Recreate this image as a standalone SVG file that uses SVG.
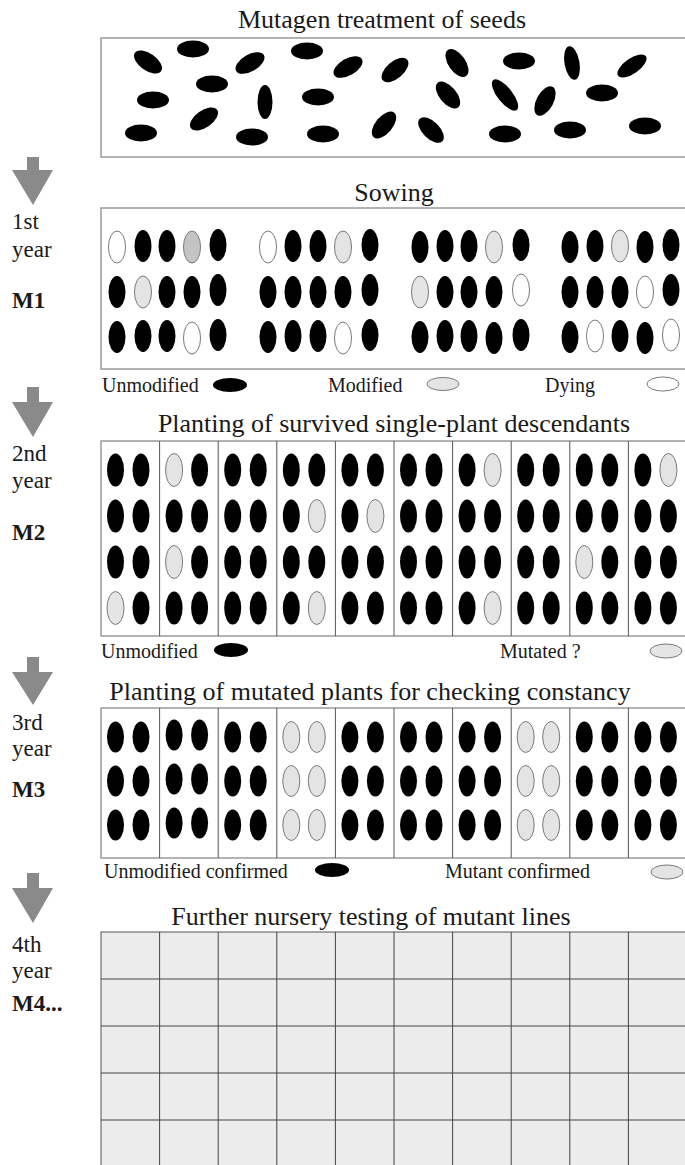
<svg xmlns="http://www.w3.org/2000/svg" width="685" height="1165" viewBox="0 0 685 1165">
<style>
text{font-family:"Liberation Serif","Times New Roman",serif;fill:#1a1a1a}
.t{font-size:26px;text-anchor:middle}
.lg{font-size:20px}
.yr{font-size:23px}
.mm{font-size:23px;font-weight:bold}
.box{fill:#fff;stroke:#9a9a9a;stroke-width:1.5}
.div{stroke:#555;stroke-width:1}
.b{fill:#000}
.g{fill:#e4e4e4;stroke:#7a7a7a;stroke-width:1}
.d{fill:#c4c4c4;stroke:#7a7a7a;stroke-width:1}
.w{fill:#fff;stroke:#7a7a7a;stroke-width:1}
.arr{fill:#8a8a8a}
.grid{fill:#ececec;stroke:#555;stroke-width:1}
.gl{stroke:#444;stroke-width:1}
</style>
<rect width="685" height="1165" fill="#fff"/>

<g id="connectors">
<polygon class="arr" points="27,157 39,157 39,170 53,170 33,205 12,170 27,170"/>
<polygon class="arr" points="27,387 39,387 39,402 53,402 33,437 12,402 27,402"/>
<polygon class="arr" points="27,657 39,657 39,672 53,672 33,705 12,672 27,672"/>
<polygon class="arr" points="27,873 39,873 39,888 53,888 33,923 12,888 27,888"/>
</g>

<g id="year-labels">
<text class="yr" x="12" y="229">1st</text>
<text class="yr" x="12" y="257">year</text>
<text class="mm" x="12" y="308">M1</text>
<text class="yr" x="12" y="461">2nd</text>
<text class="yr" x="12" y="488">year</text>
<text class="mm" x="12" y="540">M2</text>
<text class="yr" x="12" y="730">3rd</text>
<text class="yr" x="12" y="756">year</text>
<text class="mm" x="12" y="797">M3</text>
<text class="yr" x="12" y="952">4th</text>
<text class="yr" x="12" y="978">year</text>
<text class="mm" x="12" y="1011">M4...</text>
</g>

<g id="mutagen">
<text class="t" x="382" y="28">Mutagen treatment of seeds</text>
<rect class="box" x="101" y="38" width="600" height="119"/>
<g class="b">
<ellipse cx="148" cy="62" rx="16" ry="8.5" transform="rotate(35 148 62)"/>
<ellipse cx="193" cy="49" rx="16" ry="8.5"/>
<ellipse cx="250" cy="63" rx="16" ry="8.5" transform="rotate(-30 250 63)"/>
<ellipse cx="307" cy="51" rx="16" ry="8.5"/>
<ellipse cx="348" cy="67" rx="16" ry="8.5" transform="rotate(-30 348 67)"/>
<ellipse cx="395" cy="70" rx="16" ry="8.5" transform="rotate(-40 395 70)"/>
<ellipse cx="457" cy="63" rx="16" ry="8.5" transform="rotate(55 457 63)"/>
<ellipse cx="519" cy="61" rx="16" ry="8.5"/>
<ellipse cx="572" cy="63" rx="17" ry="7.5" transform="rotate(80 572 63)"/>
<ellipse cx="632" cy="66" rx="17" ry="7.5" transform="rotate(-35 632 66)"/>
<ellipse cx="212" cy="84" rx="16" ry="8.5"/>
<ellipse cx="153" cy="100" rx="16" ry="8.5"/>
<ellipse cx="265" cy="102" rx="17" ry="7.5" transform="rotate(90 265 102)"/>
<ellipse cx="318" cy="97" rx="16" ry="8.5"/>
<ellipse cx="448" cy="95" rx="16" ry="8.5" transform="rotate(50 448 95)"/>
<ellipse cx="505" cy="95" rx="19" ry="7.5" transform="rotate(52 505 95)"/>
<ellipse cx="545" cy="101" rx="16" ry="8.5" transform="rotate(-62 545 101)"/>
<ellipse cx="602" cy="93" rx="16" ry="8.5"/>
<ellipse cx="204" cy="119" rx="16" ry="8.5" transform="rotate(-35 204 119)"/>
<ellipse cx="141" cy="133" rx="16" ry="8.5"/>
<ellipse cx="252" cy="137" rx="16" ry="8.5"/>
<ellipse cx="323" cy="134" rx="16" ry="8.5"/>
<ellipse cx="384" cy="125" rx="16" ry="8.5" transform="rotate(-50 384 125)"/>
<ellipse cx="431" cy="130" rx="16" ry="8.5" transform="rotate(45 431 130)"/>
<ellipse cx="505" cy="134" rx="16" ry="8.5"/>
<ellipse cx="570" cy="130" rx="16" ry="8.5"/>
<ellipse cx="645" cy="126" rx="16" ry="8.5"/>
</g>
</g>

<g id="sowing">
<text class="t" x="394" y="201">Sowing</text>
<rect class="box" x="101" y="208" width="600" height="161"/>
<!-- group 1 -->
<ellipse class="w" cx="117" cy="247" rx="8.5" ry="16"/>
<ellipse class="b" cx="143" cy="246" rx="8.5" ry="16"/>
<ellipse class="b" cx="167" cy="246" rx="8.5" ry="16"/>
<ellipse class="d" cx="192" cy="247" rx="8.5" ry="16"/>
<ellipse class="b" cx="218" cy="245" rx="8.5" ry="16"/>
<ellipse class="b" cx="117" cy="292" rx="8.5" ry="16"/>
<ellipse class="g" cx="143" cy="292" rx="8.5" ry="16"/>
<ellipse class="b" cx="167" cy="292" rx="8.5" ry="16"/>
<ellipse class="b" cx="192" cy="292" rx="8.5" ry="16"/>
<ellipse class="b" cx="218" cy="290" rx="8.5" ry="16"/>
<ellipse class="b" cx="117" cy="337" rx="8.5" ry="16"/>
<ellipse class="b" cx="143" cy="336" rx="8.5" ry="16"/>
<ellipse class="b" cx="167" cy="336" rx="8.5" ry="16"/>
<ellipse class="w" cx="192" cy="338" rx="8.5" ry="16"/>
<ellipse class="b" cx="218" cy="335" rx="8.5" ry="16"/>
<!-- group 2 -->
<ellipse class="w" cx="268" cy="247" rx="8.5" ry="16"/>
<ellipse class="b" cx="293" cy="246" rx="8.5" ry="16"/>
<ellipse class="b" cx="318" cy="246" rx="8.5" ry="16"/>
<ellipse class="g" cx="343" cy="247" rx="8.5" ry="16"/>
<ellipse class="b" cx="370" cy="245" rx="8.5" ry="16"/>
<ellipse class="b" cx="268" cy="292" rx="8.5" ry="16"/>
<ellipse class="b" cx="293" cy="292" rx="8.5" ry="16"/>
<ellipse class="b" cx="318" cy="292" rx="8.5" ry="16"/>
<ellipse class="b" cx="343" cy="292" rx="8.5" ry="16"/>
<ellipse class="b" cx="370" cy="290" rx="8.5" ry="16"/>
<ellipse class="b" cx="268" cy="337" rx="8.5" ry="16"/>
<ellipse class="b" cx="293" cy="336" rx="8.5" ry="16"/>
<ellipse class="b" cx="318" cy="336" rx="8.5" ry="16"/>
<ellipse class="w" cx="343" cy="338" rx="8.5" ry="16"/>
<ellipse class="b" cx="370" cy="335" rx="8.5" ry="16"/>
<!-- group 3 -->
<ellipse class="b" cx="420" cy="247" rx="8.5" ry="16"/>
<ellipse class="b" cx="445" cy="246" rx="8.5" ry="16"/>
<ellipse class="b" cx="469" cy="246" rx="8.5" ry="16"/>
<ellipse class="g" cx="494" cy="247" rx="8.5" ry="16"/>
<ellipse class="b" cx="521" cy="245" rx="8.5" ry="16"/>
<ellipse class="g" cx="420" cy="292" rx="8.5" ry="16"/>
<ellipse class="b" cx="445" cy="292" rx="8.5" ry="16"/>
<ellipse class="b" cx="469" cy="292" rx="8.5" ry="16"/>
<ellipse class="b" cx="494" cy="292" rx="8.5" ry="16"/>
<ellipse class="w" cx="521" cy="290" rx="8.5" ry="16"/>
<ellipse class="b" cx="420" cy="337" rx="8.5" ry="16"/>
<ellipse class="b" cx="445" cy="336" rx="8.5" ry="16"/>
<ellipse class="b" cx="469" cy="336" rx="8.5" ry="16"/>
<ellipse class="b" cx="494" cy="338" rx="8.5" ry="16"/>
<ellipse class="b" cx="521" cy="335" rx="8.5" ry="16"/>
<!-- group 4 -->
<ellipse class="b" cx="570" cy="247" rx="8.5" ry="16"/>
<ellipse class="b" cx="595" cy="246" rx="8.5" ry="16"/>
<ellipse class="g" cx="620" cy="246" rx="8.5" ry="16"/>
<ellipse class="b" cx="645" cy="247" rx="8.5" ry="16"/>
<ellipse class="b" cx="671" cy="245" rx="8.5" ry="16"/>
<ellipse class="b" cx="570" cy="292" rx="8.5" ry="16"/>
<ellipse class="b" cx="595" cy="292" rx="8.5" ry="16"/>
<ellipse class="b" cx="620" cy="292" rx="8.5" ry="16"/>
<ellipse class="w" cx="645" cy="292" rx="8.5" ry="16"/>
<ellipse class="b" cx="671" cy="290" rx="8.5" ry="16"/>
<ellipse class="b" cx="570" cy="337" rx="8.5" ry="16"/>
<ellipse class="w" cx="595" cy="336" rx="8.5" ry="16"/>
<ellipse class="b" cx="620" cy="336" rx="8.5" ry="16"/>
<ellipse class="b" cx="645" cy="338" rx="8.5" ry="16"/>
<ellipse class="w" cx="671" cy="335" rx="8.5" ry="16"/>
</g>

<g id="legend-m1">
<text class="lg" x="102" y="392">Unmodified</text>
<ellipse class="b" cx="230" cy="385" rx="17" ry="7"/>
<text class="lg" x="328" y="392">Modified</text>
<ellipse class="g" cx="443" cy="384" rx="16" ry="6.5"/>
<text class="lg" x="545" y="392">Dying</text>
<ellipse class="w" cx="663" cy="384" rx="16" ry="7"/>
</g>

<g id="planting-m2">
<text class="t" x="394" y="432">Planting of survived single-plant descendants</text>
<rect class="box" x="101" y="441" width="600" height="195"/>
<g class="div">
<line x1="159.6" y1="441" x2="159.6" y2="636"/>
<line x1="218.2" y1="441" x2="218.2" y2="636"/>
<line x1="276.8" y1="441" x2="276.8" y2="636"/>
<line x1="335.4" y1="441" x2="335.4" y2="636"/>
<line x1="394" y1="441" x2="394" y2="636"/>
<line x1="452.6" y1="441" x2="452.6" y2="636"/>
<line x1="511.2" y1="441" x2="511.2" y2="636"/>
<line x1="569.8" y1="441" x2="569.8" y2="636"/>
<line x1="628.4" y1="441" x2="628.4" y2="636"/>
</g>
<!-- row 1 -->
<ellipse class="b" cx="115.5" cy="470" rx="8.5" ry="16.5"/><ellipse class="b" cx="141" cy="470" rx="8.5" ry="16.5"/>
<ellipse class="g" cx="174.1" cy="470" rx="8.5" ry="16.5"/><ellipse class="b" cx="199.6" cy="470" rx="8.5" ry="16.5"/>
<ellipse class="b" cx="232.7" cy="470" rx="8.5" ry="16.5"/><ellipse class="b" cx="258.2" cy="470" rx="8.5" ry="16.5"/>
<ellipse class="b" cx="291.3" cy="470" rx="8.5" ry="16.5"/><ellipse class="b" cx="316.8" cy="470" rx="8.5" ry="16.5"/>
<ellipse class="b" cx="349.9" cy="470" rx="8.5" ry="16.5"/><ellipse class="b" cx="375.4" cy="470" rx="8.5" ry="16.5"/>
<ellipse class="b" cx="408.5" cy="470" rx="8.5" ry="16.5"/><ellipse class="b" cx="434" cy="470" rx="8.5" ry="16.5"/>
<ellipse class="b" cx="467.1" cy="470" rx="8.5" ry="16.5"/><ellipse class="g" cx="492.6" cy="470" rx="8.5" ry="16.5"/>
<ellipse class="b" cx="525.7" cy="470" rx="8.5" ry="16.5"/><ellipse class="b" cx="551.2" cy="470" rx="8.5" ry="16.5"/>
<ellipse class="b" cx="584.3" cy="470" rx="8.5" ry="16.5"/><ellipse class="b" cx="609.8" cy="470" rx="8.5" ry="16.5"/>
<ellipse class="b" cx="642.9" cy="470" rx="8.5" ry="16.5"/><ellipse class="g" cx="668.4" cy="470" rx="8.5" ry="16.5"/>
<!-- row 2 -->
<ellipse class="b" cx="115.5" cy="516" rx="8.5" ry="16.5"/><ellipse class="b" cx="141" cy="516" rx="8.5" ry="16.5"/>
<ellipse class="b" cx="174.1" cy="516" rx="8.5" ry="16.5"/><ellipse class="b" cx="199.6" cy="516" rx="8.5" ry="16.5"/>
<ellipse class="b" cx="232.7" cy="516" rx="8.5" ry="16.5"/><ellipse class="b" cx="258.2" cy="516" rx="8.5" ry="16.5"/>
<ellipse class="b" cx="291.3" cy="516" rx="8.5" ry="16.5"/><ellipse class="g" cx="316.8" cy="516" rx="8.5" ry="16.5"/>
<ellipse class="b" cx="349.9" cy="516" rx="8.5" ry="16.5"/><ellipse class="g" cx="375.4" cy="516" rx="8.5" ry="16.5"/>
<ellipse class="b" cx="408.5" cy="516" rx="8.5" ry="16.5"/><ellipse class="b" cx="434" cy="516" rx="8.5" ry="16.5"/>
<ellipse class="b" cx="467.1" cy="516" rx="8.5" ry="16.5"/><ellipse class="b" cx="492.6" cy="516" rx="8.5" ry="16.5"/>
<ellipse class="b" cx="525.7" cy="516" rx="8.5" ry="16.5"/><ellipse class="b" cx="551.2" cy="516" rx="8.5" ry="16.5"/>
<ellipse class="b" cx="584.3" cy="516" rx="8.5" ry="16.5"/><ellipse class="b" cx="609.8" cy="516" rx="8.5" ry="16.5"/>
<ellipse class="b" cx="642.9" cy="516" rx="8.5" ry="16.5"/><ellipse class="b" cx="668.4" cy="516" rx="8.5" ry="16.5"/>
<!-- row 3 -->
<ellipse class="b" cx="115.5" cy="562" rx="8.5" ry="16.5"/><ellipse class="b" cx="141" cy="562" rx="8.5" ry="16.5"/>
<ellipse class="g" cx="174.1" cy="562" rx="8.5" ry="16.5"/><ellipse class="b" cx="199.6" cy="562" rx="8.5" ry="16.5"/>
<ellipse class="b" cx="232.7" cy="562" rx="8.5" ry="16.5"/><ellipse class="b" cx="258.2" cy="562" rx="8.5" ry="16.5"/>
<ellipse class="b" cx="291.3" cy="562" rx="8.5" ry="16.5"/><ellipse class="b" cx="316.8" cy="562" rx="8.5" ry="16.5"/>
<ellipse class="b" cx="349.9" cy="562" rx="8.5" ry="16.5"/><ellipse class="b" cx="375.4" cy="562" rx="8.5" ry="16.5"/>
<ellipse class="b" cx="408.5" cy="562" rx="8.5" ry="16.5"/><ellipse class="b" cx="434" cy="562" rx="8.5" ry="16.5"/>
<ellipse class="b" cx="467.1" cy="562" rx="8.5" ry="16.5"/><ellipse class="b" cx="492.6" cy="562" rx="8.5" ry="16.5"/>
<ellipse class="b" cx="525.7" cy="562" rx="8.5" ry="16.5"/><ellipse class="b" cx="551.2" cy="562" rx="8.5" ry="16.5"/>
<ellipse class="g" cx="584.3" cy="562" rx="8.5" ry="16.5"/><ellipse class="b" cx="609.8" cy="562" rx="8.5" ry="16.5"/>
<ellipse class="b" cx="642.9" cy="562" rx="8.5" ry="16.5"/><ellipse class="b" cx="668.4" cy="562" rx="8.5" ry="16.5"/>
<!-- row 4 -->
<ellipse class="g" cx="115.5" cy="608" rx="8.5" ry="16.5"/><ellipse class="b" cx="141" cy="608" rx="8.5" ry="16.5"/>
<ellipse class="b" cx="174.1" cy="608" rx="8.5" ry="16.5"/><ellipse class="b" cx="199.6" cy="608" rx="8.5" ry="16.5"/>
<ellipse class="b" cx="232.7" cy="608" rx="8.5" ry="16.5"/><ellipse class="b" cx="258.2" cy="608" rx="8.5" ry="16.5"/>
<ellipse class="b" cx="291.3" cy="608" rx="8.5" ry="16.5"/><ellipse class="g" cx="316.8" cy="608" rx="8.5" ry="16.5"/>
<ellipse class="b" cx="349.9" cy="608" rx="8.5" ry="16.5"/><ellipse class="b" cx="375.4" cy="608" rx="8.5" ry="16.5"/>
<ellipse class="b" cx="408.5" cy="608" rx="8.5" ry="16.5"/><ellipse class="b" cx="434" cy="608" rx="8.5" ry="16.5"/>
<ellipse class="b" cx="467.1" cy="608" rx="8.5" ry="16.5"/><ellipse class="g" cx="492.6" cy="608" rx="8.5" ry="16.5"/>
<ellipse class="b" cx="525.7" cy="608" rx="8.5" ry="16.5"/><ellipse class="b" cx="551.2" cy="608" rx="8.5" ry="16.5"/>
<ellipse class="b" cx="584.3" cy="608" rx="8.5" ry="16.5"/><ellipse class="b" cx="609.8" cy="608" rx="8.5" ry="16.5"/>
<ellipse class="b" cx="642.9" cy="608" rx="8.5" ry="16.5"/><ellipse class="b" cx="668.4" cy="608" rx="8.5" ry="16.5"/>
</g>

<g id="legend-m2">
<text class="lg" x="101" y="658">Unmodified</text>
<ellipse class="b" cx="231" cy="650" rx="17" ry="7"/>
<text class="lg" x="500" y="658">Mutated ?</text>
<ellipse class="g" cx="666" cy="651" rx="16" ry="7"/>
</g>

<g id="planting-m3">
<text class="t" x="370" y="700">Planting of mutated plants for checking constancy</text>
<rect class="box" x="101" y="708" width="600" height="150"/>
<g class="div">
<line x1="159.6" y1="708" x2="159.6" y2="858"/>
<line x1="218.2" y1="708" x2="218.2" y2="858"/>
<line x1="276.8" y1="708" x2="276.8" y2="858"/>
<line x1="335.4" y1="708" x2="335.4" y2="858"/>
<line x1="394" y1="708" x2="394" y2="858"/>
<line x1="452.6" y1="708" x2="452.6" y2="858"/>
<line x1="511.2" y1="708" x2="511.2" y2="858"/>
<line x1="569.8" y1="708" x2="569.8" y2="858"/>
<line x1="628.4" y1="708" x2="628.4" y2="858"/>
</g>
<!-- row 1 -->
<ellipse class="b" cx="115.5" cy="737" rx="8.5" ry="15.5"/><ellipse class="b" cx="141" cy="737" rx="8.5" ry="15.5"/>
<ellipse class="b" cx="174.1" cy="735" rx="8.5" ry="15.5"/><ellipse class="b" cx="199.6" cy="735" rx="8.5" ry="15.5"/>
<ellipse class="b" cx="232.7" cy="737" rx="8.5" ry="15.5"/><ellipse class="b" cx="258.2" cy="737" rx="8.5" ry="15.5"/>
<ellipse class="g" cx="291.3" cy="737" rx="8.5" ry="15.5"/><ellipse class="g" cx="316.8" cy="737" rx="8.5" ry="15.5"/>
<ellipse class="b" cx="349.9" cy="737" rx="8.5" ry="15.5"/><ellipse class="b" cx="375.4" cy="737" rx="8.5" ry="15.5"/>
<ellipse class="b" cx="408.5" cy="737" rx="8.5" ry="15.5"/><ellipse class="b" cx="434" cy="737" rx="8.5" ry="15.5"/>
<ellipse class="b" cx="467.1" cy="737" rx="8.5" ry="15.5"/><ellipse class="b" cx="492.6" cy="737" rx="8.5" ry="15.5"/>
<ellipse class="g" cx="525.7" cy="737" rx="8.5" ry="15.5"/><ellipse class="g" cx="551.2" cy="737" rx="8.5" ry="15.5"/>
<ellipse class="b" cx="584.3" cy="737" rx="8.5" ry="15.5"/><ellipse class="b" cx="609.8" cy="737" rx="8.5" ry="15.5"/>
<ellipse class="b" cx="642.9" cy="737" rx="8.5" ry="15.5"/><ellipse class="b" cx="668.4" cy="737" rx="8.5" ry="15.5"/>
<!-- row 2 -->
<ellipse class="b" cx="115.5" cy="781" rx="8.5" ry="15.5"/><ellipse class="b" cx="141" cy="781" rx="8.5" ry="15.5"/>
<ellipse class="b" cx="174.1" cy="779" rx="8.5" ry="15.5"/><ellipse class="b" cx="199.6" cy="779" rx="8.5" ry="15.5"/>
<ellipse class="b" cx="232.7" cy="781" rx="8.5" ry="15.5"/><ellipse class="b" cx="258.2" cy="781" rx="8.5" ry="15.5"/>
<ellipse class="g" cx="291.3" cy="781" rx="8.5" ry="15.5"/><ellipse class="g" cx="316.8" cy="781" rx="8.5" ry="15.5"/>
<ellipse class="b" cx="349.9" cy="781" rx="8.5" ry="15.5"/><ellipse class="b" cx="375.4" cy="781" rx="8.5" ry="15.5"/>
<ellipse class="b" cx="408.5" cy="781" rx="8.5" ry="15.5"/><ellipse class="b" cx="434" cy="781" rx="8.5" ry="15.5"/>
<ellipse class="b" cx="467.1" cy="781" rx="8.5" ry="15.5"/><ellipse class="b" cx="492.6" cy="781" rx="8.5" ry="15.5"/>
<ellipse class="g" cx="525.7" cy="781" rx="8.5" ry="15.5"/><ellipse class="g" cx="551.2" cy="781" rx="8.5" ry="15.5"/>
<ellipse class="b" cx="584.3" cy="781" rx="8.5" ry="15.5"/><ellipse class="b" cx="609.8" cy="781" rx="8.5" ry="15.5"/>
<ellipse class="b" cx="642.9" cy="781" rx="8.5" ry="15.5"/><ellipse class="b" cx="668.4" cy="781" rx="8.5" ry="15.5"/>
<!-- row 3 -->
<ellipse class="b" cx="115.5" cy="825" rx="8.5" ry="15.5"/><ellipse class="b" cx="141" cy="825" rx="8.5" ry="15.5"/>
<ellipse class="b" cx="174.1" cy="823" rx="8.5" ry="15.5"/><ellipse class="b" cx="199.6" cy="823" rx="8.5" ry="15.5"/>
<ellipse class="b" cx="232.7" cy="825" rx="8.5" ry="15.5"/><ellipse class="b" cx="258.2" cy="825" rx="8.5" ry="15.5"/>
<ellipse class="g" cx="291.3" cy="825" rx="8.5" ry="15.5"/><ellipse class="g" cx="316.8" cy="825" rx="8.5" ry="15.5"/>
<ellipse class="b" cx="349.9" cy="825" rx="8.5" ry="15.5"/><ellipse class="b" cx="375.4" cy="825" rx="8.5" ry="15.5"/>
<ellipse class="b" cx="408.5" cy="825" rx="8.5" ry="15.5"/><ellipse class="b" cx="434" cy="825" rx="8.5" ry="15.5"/>
<ellipse class="b" cx="467.1" cy="825" rx="8.5" ry="15.5"/><ellipse class="b" cx="492.6" cy="825" rx="8.5" ry="15.5"/>
<ellipse class="g" cx="525.7" cy="825" rx="8.5" ry="15.5"/><ellipse class="g" cx="551.2" cy="825" rx="8.5" ry="15.5"/>
<ellipse class="b" cx="584.3" cy="825" rx="8.5" ry="15.5"/><ellipse class="b" cx="609.8" cy="825" rx="8.5" ry="15.5"/>
<ellipse class="b" cx="642.9" cy="825" rx="8.5" ry="15.5"/><ellipse class="b" cx="668.4" cy="825" rx="8.5" ry="15.5"/>
</g>

<g id="legend-m3">
<text class="lg" x="104" y="878">Unmodified confirmed</text>
<ellipse class="b" cx="332" cy="870" rx="17" ry="7"/>
<text class="lg" x="445" y="878">Mutant confirmed</text>
<ellipse class="g" cx="667" cy="872" rx="16" ry="7"/>
</g>

<g id="nursery-m4">
<text class="t" x="371" y="925">Further nursery testing of mutant lines</text>
<rect class="grid" x="101" y="932" width="600" height="245"/>
<g class="gl">
<line x1="101" y1="979" x2="685" y2="979"/>
<line x1="101" y1="1026" x2="685" y2="1026"/>
<line x1="101" y1="1073" x2="685" y2="1073"/>
<line x1="101" y1="1120" x2="685" y2="1120"/>
<line x1="159.6" y1="932" x2="159.6" y2="1165"/>
<line x1="218.2" y1="932" x2="218.2" y2="1165"/>
<line x1="276.8" y1="932" x2="276.8" y2="1165"/>
<line x1="335.4" y1="932" x2="335.4" y2="1165"/>
<line x1="394" y1="932" x2="394" y2="1165"/>
<line x1="452.6" y1="932" x2="452.6" y2="1165"/>
<line x1="511.2" y1="932" x2="511.2" y2="1165"/>
<line x1="569.8" y1="932" x2="569.8" y2="1165"/>
<line x1="628.4" y1="932" x2="628.4" y2="1165"/>
</g>
</g>
</svg>
